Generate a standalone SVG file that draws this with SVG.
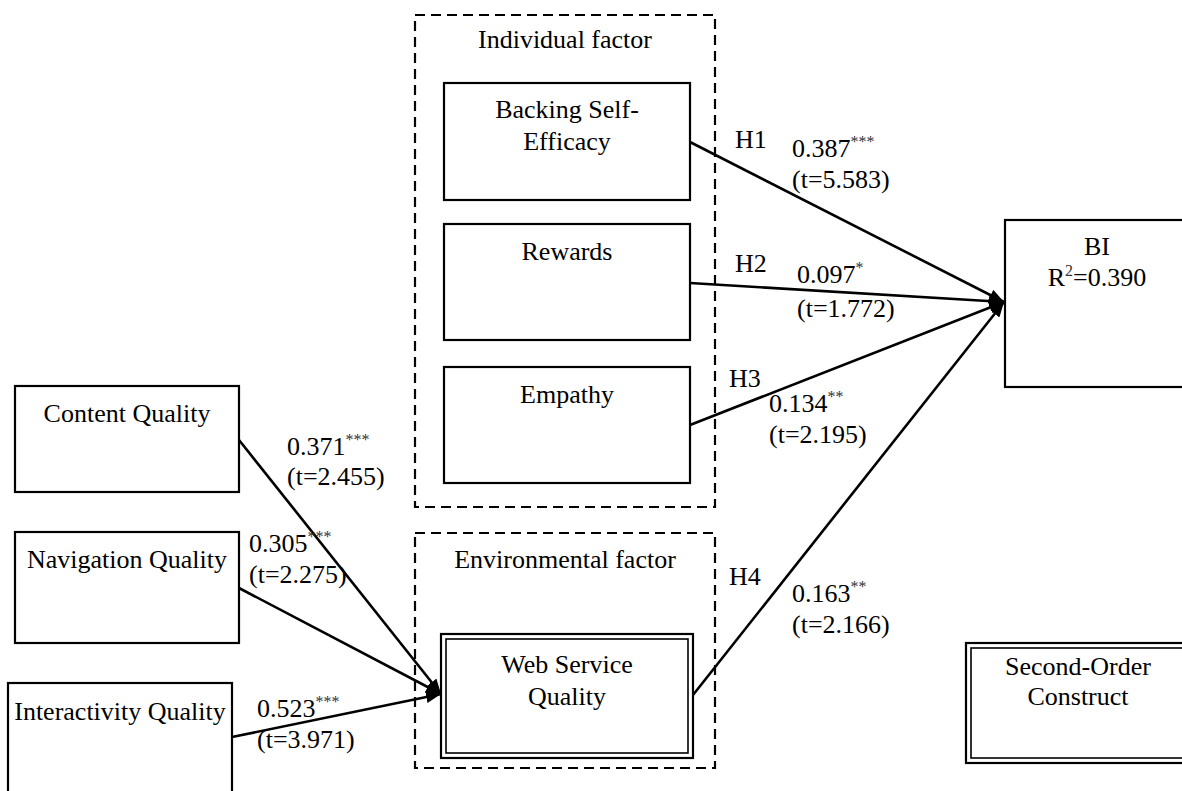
<svg xmlns="http://www.w3.org/2000/svg" width="1182" height="791" viewBox="0 0 1182 791">
<defs>
<style>
text{font-family:"Liberation Serif","Times New Roman",serif;font-size:26px;fill:#000}
.c{text-anchor:middle}
.sup{font-size:16px;fill:#333}
.box{fill:#fff;stroke:#000;stroke-width:2.2}
.dbl{fill:none;stroke:#000;stroke-width:1.6}
.grp{fill:none;stroke:#000;stroke-width:2.2;stroke-dasharray:10,6}
.ln{fill:none;stroke:#000;stroke-width:2.6}
</style>
<marker id="ah" markerUnits="userSpaceOnUse" markerWidth="16" markerHeight="12" refX="15" refY="6" orient="auto">
<path d="M0,0 L15,6 L0,12 z" fill="#000"/>
</marker>
</defs>
<rect width="1182" height="791" fill="#fff"/>

<g id="individual-factor">
<rect class="grp" x="415" y="15" width="300" height="492"/>
<text class="c" x="565" y="48">Individual factor</text>
</g>
<g id="environmental-factor">
<rect class="grp" x="415" y="533" width="300" height="235"/>
<text class="c" x="565" y="568">Environmental factor</text>
</g>

<g id="backing-self-efficacy">
<rect class="box" x="444" y="83" width="246" height="117"/>
<text class="c" x="567" y="118">Backing Self-</text>
<text class="c" x="567" y="150">Efficacy</text>
</g>
<g id="rewards">
<rect class="box" x="444" y="224" width="246" height="116"/>
<text class="c" x="567" y="260">Rewards</text>
</g>
<g id="empathy">
<rect class="box" x="444" y="367" width="246" height="116"/>
<text class="c" x="567" y="403">Empathy</text>
</g>
<g id="web-service-quality">
<rect class="box" x="441" y="634" width="252" height="124"/>
<rect class="dbl" x="446" y="639" width="242" height="114"/>
<text class="c" x="567" y="673">Web Service</text>
<text class="c" x="567" y="705">Quality</text>
</g>
<g id="content-quality">
<rect class="box" x="15" y="386" width="224" height="106"/>
<text class="c" x="127" y="422">Content Quality</text>
</g>
<g id="navigation-quality">
<rect class="box" x="15" y="532" width="224" height="111"/>
<text class="c" x="127" y="568">Navigation Quality</text>
</g>
<g id="interactivity-quality">
<rect class="box" x="8" y="683" width="224" height="130"/>
<text class="c" x="120" y="720">Interactivity Quality</text>
</g>
<g id="bi">
<rect class="box" x="1005" y="220" width="185" height="167"/>
<text class="c" x="1097" y="255">BI</text>
<text class="c" x="1097" y="286">R<tspan class="sup" dy="-10">2</tspan><tspan dy="10">=0.390</tspan></text>
</g>
<g id="second-order-construct">
<rect class="box" x="966" y="643" width="224" height="120"/>
<rect class="dbl" x="971" y="648" width="214" height="110"/>
<text class="c" x="1078" y="675">Second-Order</text>
<text class="c" x="1078" y="705">Construct</text>
</g>

<g id="connectors">
<line class="ln" x1="690" y1="142" x2="1004" y2="302" marker-end="url(#ah)"/>
<line class="ln" x1="690" y1="283" x2="1004" y2="302" marker-end="url(#ah)"/>
<line class="ln" x1="690" y1="425" x2="1004" y2="302" marker-end="url(#ah)"/>
<line class="ln" x1="693" y1="695" x2="1004" y2="302" marker-end="url(#ah)"/>
<line class="ln" x1="239" y1="440" x2="441" y2="694" marker-end="url(#ah)"/>
<line class="ln" x1="239" y1="588" x2="441" y2="694" marker-end="url(#ah)"/>
<line class="ln" x1="232" y1="737" x2="441" y2="694" marker-end="url(#ah)"/>
</g>

<g id="connector-labels">
<text x="735" y="148">H1</text>
<text x="792" y="157">0.387<tspan class="sup" dy="-10">***</tspan></text>
<text x="792" y="188">(t=5.583)</text>
<text x="735" y="272">H2</text>
<text x="797" y="283">0.097<tspan class="sup" dy="-10">*</tspan></text>
<text x="797" y="317">(t=1.772)</text>
<text x="729" y="387">H3</text>
<text x="769" y="412">0.134<tspan class="sup" dy="-10">**</tspan></text>
<text x="769" y="443">(t=2.195)</text>
<text x="729" y="585">H4</text>
<text x="792" y="602">0.163<tspan class="sup" dy="-10">**</tspan></text>
<text x="792" y="633">(t=2.166)</text>
<text x="287" y="455">0.371<tspan class="sup" dy="-10">***</tspan></text>
<text x="287" y="485">(t=2.455)</text>
<text x="249" y="552">0.305<tspan class="sup" dy="-10">***</tspan></text>
<text x="249" y="583">(t=2.275)</text>
<text x="257" y="717">0.523<tspan class="sup" dy="-10">***</tspan></text>
<text x="257" y="748">(t=3.971)</text>
</g>
</svg>
